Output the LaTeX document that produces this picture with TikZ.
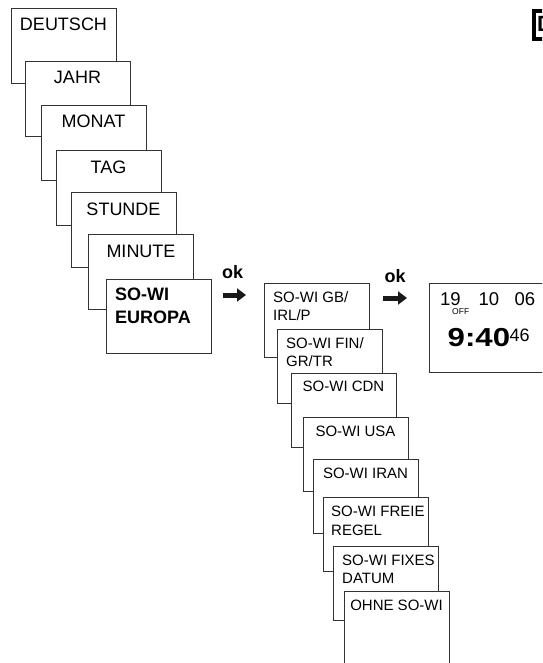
\documentclass[tikz,border=0pt]{standalone}
\usepackage{fontspec}
\setmainfont{Liberation Sans}
\newfontfamily\dispwide[FakeStretch=1.2]{Liberation Sans}
\usetikzlibrary{arrows.meta}
\begin{document}
\begin{tikzpicture}[x=1pt,y=-1pt,
  box/.style={draw=black!80, line width=1pt, fill=white, anchor=north west, minimum width=105pt, minimum height=75pt, inner sep=0pt},
  boxb/.style={box, minimum height=74pt},
  lab/.style={font=\fontsize{18}{23}\selectfont, anchor=base, inner sep=0pt},
  labl/.style={font=\bfseries\fontsize{18}{23}\selectfont, anchor=base west, inner sep=0pt, align=left},
  sm/.style={font=\fontsize{15}{18.5}\selectfont, anchor=base, inner sep=0pt},
  sml/.style={font=\fontsize{15}{18.5}\selectfont, anchor=base west, inner sep=0pt, align=left},
  okl/.style={font=\bfseries\fontsize{18}{22}\selectfont, anchor=base west, inner sep=0pt},
  okarrow/.style={line width=5pt, draw=black!90, -{Triangle[length=9pt,width=13pt]}},
  disp/.style={font=\fontsize{18.5}{22}\selectfont, anchor=base west, inner sep=0pt}]
\useasboundingbox (0,0) rectangle (542,663);
\clip (0,0) rectangle (542,663);
% group 1
\node[box] (b1) at (11,8) {};
\node[lab] (t1) at (63.5,31) {DEUTSCH};
\node[box] (b2) at (25,61) {};
\node[lab] (t2) at (77.5,84) {JAHR};
\node[box] (b3) at (41,105) {};
\node[lab] (t3) at (93.5,128) {MONAT};
\node[box] (b4) at (56,150) {};
\node[lab] (t4) at (108.5,173) {TAG};
\node[box] (b5) at (71,192) {};
\node[lab] (t5) at (123.5,215) {STUNDE};
\node[box] (b6) at (88,234) {};
\node[lab] (t6) at (141,257) {MINUTE};
\node[box, minimum height=74pt] (b7) at (106,279) {};
\node[labl] (t7a) at (115,300) {SO-WI};
\node[labl] (t7b) at (115,323) {EUROPA};
% arrows
\node[okl] (ok1) at (222,278.5) {ok};
\coordinate (a1s) at (223,295);
\coordinate (a1e) at (246,295);
\draw[okarrow] (a1s) -- (a1e);
\node[okl] (ok2) at (384.5,282) {ok};
\coordinate (a2s) at (383,298);
\coordinate (a2e) at (407,298);
\draw[okarrow] (a2s) -- (a2e);
% group 2
\node[boxb] (c1) at (264,283) {};
\node[sml] (u1a) at (273,302) {SO-WI GB/};
\node[sml] (u1b) at (273,320.5) {IRL/P};
\node[boxb] (c2) at (277,329) {};
\node[sml] (u2a) at (286,348) {SO-WI FIN/};
\node[sml] (u2b) at (286,366.5) {GR/TR};
\node[boxb] (c3) at (291,373) {};
\node[sm] (u3) at (343.5,391) {SO-WI CDN};
\node[boxb] (c4) at (303,417) {};
\node[sm] (u4) at (355.5,436) {SO-WI USA};
\node[boxb] (c5) at (313,459) {};
\node[sm] (u5) at (365.5,478.5) {SO-WI IRAN};
\node[boxb] (c6) at (323,497) {};
\node[sml] (u6a) at (331,516.5) {SO-WI FREIE};
\node[sml] (u6b) at (331,535) {REGEL};
\node[boxb] (c7) at (333,546) {};
\node[sml] (u7a) at (342,565) {SO-WI FIXES};
\node[sml] (u7b) at (342,583.5) {DATUM};
\node[boxb] (c8) at (344,591) {};
\node[sm] (u8) at (396.5,610) {OHNE SO-WI};
% display
\node[box, minimum width=140pt, minimum height=89pt] (d) at (429,283) {};
\node[disp] (d19) at (440,305.3) {19};
\node[font=\fontsize{8.5}{9}\selectfont, anchor=base west, inner sep=0pt] (doff) at (452,314.5) {OFF};
\node[disp] (d10) at (478.3,305.3) {10};
\node[disp] (d06) at (514.5,305.3) {06};
\node[font=\dispwide\bfseries\fontsize{26}{30}\selectfont, anchor=base west, inner sep=0pt] (dtime) at (447.5,346.3) {9:40};
\node[font=\fontsize{18}{20}\selectfont, anchor=base west, inner sep=0pt] (dsec) at (509.5,341.3) {46};
% corner tab
\node[draw=black, line width=4.5pt, fill=white, anchor=north west, minimum width=30pt, minimum height=28pt, inner sep=0pt] (tab) at (531.5,9) {};
\node[font=\bfseries\fontsize{22}{24}\selectfont, anchor=base west, inner sep=0pt] (tabD) at (537,32) {D};
\end{tikzpicture}
\end{document}
